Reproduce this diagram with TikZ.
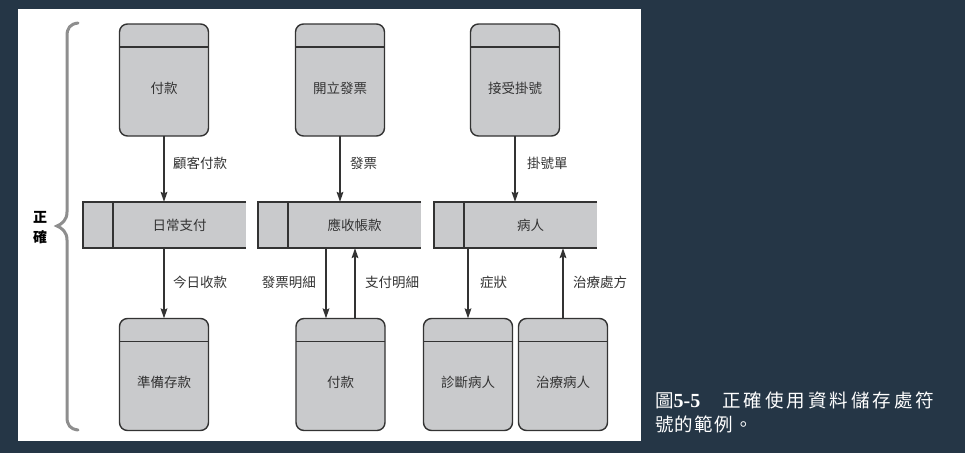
\documentclass[tikz,border=0pt]{standalone}
\usepackage{fontspec}
\newfontfamily\cjk{Noto Sans CJK TC}
\newfontfamily\capcjkwide[LetterSpace=16]{Noto Sans CJK TC}
\newfontfamily\capcjk[LetterSpace=7]{Noto Sans CJK TC}
\newfontfamily\capnum{Liberation Serif}
\usetikzlibrary{arrows.meta}
\definecolor{bgnavy}{HTML}{253646}
\definecolor{boxgray}{HTML}{C9CACC}
\definecolor{ink}{HTML}{333333}
\definecolor{bracegray}{HTML}{8E8E8E}
\begin{document}
\begin{tikzpicture}[x=1pt,y=-1pt,
  every node/.style={font=\cjk\fontsize{13.5}{16}\selectfont, text=ink},
  proc/.style={rectangle, rounded corners=8pt, fill=boxgray, draw=ink,
    line width=1.4pt, minimum width=89pt, minimum height=112pt,
    inner sep=0pt, outer sep=0pt},
  store/.style={rectangle, fill=boxgray, minimum width=163pt,
    minimum height=46pt, inner sep=0pt, outer sep=0pt},
  storeline/.style={draw=ink, line width=2pt},
  flow/.style={draw=ink, line width=2pt,
    -{Stealth[length=10pt,width=6.5pt,inset=1.5pt]}},
  flowlabel/.style={inner sep=0pt}
]
% page and panel
\fill[bgnavy] (0,0) rectangle (965,453);
\useasboundingbox (0,0) rectangle (965,453);
\fill[white] (18,9) rectangle (641,441);

% processes (top row)
\node[proc, label={[yshift=-8pt]center:付款}] (p1) at (164,80) {};
\node[proc, label={[yshift=-8pt]center:開立發票}] (p2) at (340,80) {};
\node[proc, label={[yshift=-8pt]center:接受掛號}] (p3) at (515,80) {};
% processes (bottom row)
\node[proc, label={[yshift=-8pt]center:準備存款}] (p4) at (164,374.5) {};
\node[proc, label={[yshift=-8pt]center:付款}] (p5) at (340.5,374.5) {};
\node[proc, label={[yshift=-8pt]center:診斷病人}] (p6) at (468,374.5) {};
\node[proc, label={[yshift=-8pt]center:治療病人}] (p7) at (563,374.5) {};
\foreach \n in {p1,p2,p3,p4,p5,p6,p7}
  \draw[draw=ink, line width=1.4pt]
    ([yshift=-23pt]\n.north west) -- ([yshift=-23pt]\n.north east);

% data stores (open on the right)
\node[store] (s1) at (164.5,225) {};
\node[store] (s2) at (339.5,225) {};
\node[store] (s3) at (515.5,225) {};
\foreach \n/\t in {s1/日常支付, s2/應收帳款, s3/病人} {
  \draw[storeline] (\n.north east) -- (\n.north west) -- (\n.south west) -- (\n.south east);
  \draw[storeline] ([xshift=30pt]\n.north west) -- ([xshift=30pt]\n.south west);
  \node[inner sep=0pt] (\n t) at ([xshift=15pt]\n.center) {\t};
}

% data flows
\draw[flow] (p1.south) -- (p1.south |- s1.north);
\draw[flow] (s1.south -| p4.north) -- (p4.north);
\draw[flow] (p2.south) -- (p2.south |- s2.north);
\draw[flow] ([xshift=-14.5pt]p5.north |- s2.south) -- ([xshift=-14.5pt]p5.north);
\draw[flow] ([xshift=14.5pt]p5.north) -- ([xshift=14.5pt]p5.north |- s2.south);
\draw[flow] (p3.south) -- (p3.south |- s3.north);
\draw[flow] (s3.south -| p6.north) -- (p6.north);
\draw[flow] (p7.north) -- (p7.north |- s3.south);

% flow labels
\node[flowlabel, anchor=west] (f1) at (173,163) {顧客付款};
\node[flowlabel, anchor=west] (f2) at (350,163) {發票};
\node[flowlabel, anchor=west] (f3) at (527,163) {掛號單};
\node[flowlabel, anchor=west] (f4) at (173,282) {今日收款};
\node[flowlabel, anchor=east] (f5) at (316,282) {發票明細};
\node[flowlabel, anchor=west] (f6) at (365,282) {支付明細};
\node[flowlabel, anchor=west] (f7) at (480,282) {症狀};
\node[flowlabel, anchor=west] (f8) at (573,282) {治療處方};

% brace and its label
\draw[bracegray, line width=3pt, line cap=round]
  (78,23) .. controls (70,24) and (67,28) .. (67,36)
  -- (67,212) .. controls (67,220) and (62,224) .. (57,226)
  .. controls (62,228) and (67,232) .. (67,240)
  -- (67,417) .. controls (67,425) and (70,429) .. (78,430);
\node[font=\cjk\bfseries\fontsize{14}{20}\selectfont, text=black, align=center,
  inner sep=0pt] (lbl) at (40,228) {正\\確};

% caption
\node[anchor=west, inner sep=0pt, text=white,
  font=\capcjk\fontsize{18.5}{20}\selectfont] (cap1) at (655,400)
  {圖{\capnum\bfseries\fontsize{20}{20}\selectfont 5-5}\hspace{22pt}{\capcjkwide 正確使用資料儲存處符}};
\node[anchor=west, inner sep=0pt, text=white,
  font=\capcjk\fontsize{18.5}{20}\selectfont] (cap2) at (655,424)
  {號的範例。};
\end{tikzpicture}
\end{document}
